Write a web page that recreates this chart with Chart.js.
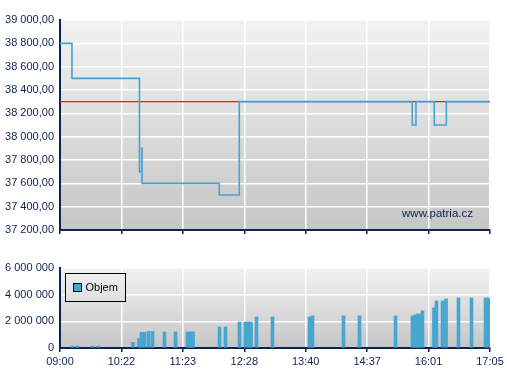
<!DOCTYPE html>
<html>
<head>
<meta charset="utf-8">
<title>Patria - kurz a objem</title>
<script src="https://cdn.jsdelivr.net/npm/chart.js@4.4.0/dist/chart.umd.min.js"></script>
<style>
    body { margin: 0; background: #fff; }
    .wrap { position: relative; width: 507px; height: 380px; }
    canvas { position: absolute; left: 0; }
    #priceChart { top: 0; }
    #volumeChart { top: 245px; }
</style>
</head>
<body>
<div class="wrap">
    <canvas id="priceChart" width="507" height="245"></canvas>
    <canvas id="volumeChart" width="507" height="135"></canvas>
</div>
<script>
// Time labels (positions 0..7 on the session axis)
const timeLabels = ['09:00', '10:22', '11:23', '12:28', '13:40', '14:37', '16:01', '17:05'];

// Price steps: position on session axis and new price
const priceX = [0, 0.195, 1.294, 1.333, 1.336, 2.593, 2.919, 5.735, 5.795, 6.093, 6.289, 7];
const priceValues = [38800, 38500, 37700, 37900, 37600, 37500, 38300, 38100, 38300, 38100, 38300, 38300];

// Reference (previous close) line
const refX = [0, 7];
const refValues = [38300, 38300];

// Cumulative volume per trade
const volumeX = [
    0.203, 0.285, 0.529, 0.627,
    1.188, 1.286, 1.327, 1.376, 1.441, 1.506,
    1.701, 1.880, 2.076, 2.124, 2.165,
    2.596, 2.694,
    2.922, 3.020, 3.069, 3.109,
    3.199, 3.459,
    4.062, 4.110,
    4.615, 4.875, 5.462,
    5.738, 5.779, 5.820, 5.860, 5.901,
    6.088, 6.129, 6.227, 6.284,
    6.487, 6.699, 6.927, 6.975
];
const volumeValues = [
    150000, 150000, 150000, 150000,
    420000, 700000, 1170000, 1170000, 1240000, 1240000,
    1200000, 1200000, 1200000, 1200000, 1200000,
    1580000, 1580000,
    1950000, 1950000, 1950000, 1950000,
    2330000, 2330000,
    2330000, 2400000,
    2400000, 2400000, 2400000,
    2400000, 2470000, 2550000, 2550000, 2780000,
    3000000, 3530000, 3530000, 3680000,
    3750000, 3750000, 3750000, 3750000
];

const navy = '#0d2352';
const lineBlue = '#43a3d2';
const barBlue = '#47a6cf';
const refRed = '#e81c1c';

function groupThousands(str) {
    return str.replace(/\B(?=(\d{3})+(?!\d))/g, ' ');
}

function fmtPrice(v) {
    const parts = v.toFixed(2).split('.');
    return groupThousands(parts[0]) + ',' + parts[1];
}

const plotBackground = {
    id: 'plotBackground',
    beforeDraw(chart) {
        const { ctx, chartArea: a } = chart;
        const g = ctx.createLinearGradient(0, a.top, 0, a.bottom);
        g.addColorStop(0, '#f2f2f2');
        g.addColorStop(1, '#c6c6c6');
        ctx.save();
        ctx.fillStyle = g;
        ctx.fillRect(a.left, a.top, a.right - a.left, a.bottom - a.top);
        ctx.restore();
    }
};

const watermark = {
    id: 'watermark',
    afterDatasetsDraw(chart) {
        const { ctx, chartArea: a } = chart;
        ctx.save();
        ctx.font = '11.5px "Liberation Sans", Arial, sans-serif';
        ctx.fillStyle = navy;
        ctx.textAlign = 'right';
        ctx.textBaseline = 'alphabetic';
        ctx.fillText('www.patria.cz', a.right - 17, a.bottom - 13);
        ctx.restore();
    }
};

const boxLegend = {
    id: 'boxLegend',
    afterDatasetsDraw(chart) {
        const { ctx, chartArea: a } = chart;
        const ds = chart.data.datasets[0];
        const x = a.left + 5.5, y = a.top + 5.5, w = 60, h = 28;
        const g = ctx.createLinearGradient(0, a.top, 0, a.bottom);
        g.addColorStop(0, '#f2f2f2');
        g.addColorStop(1, '#c6c6c6');
        ctx.save();
        ctx.fillStyle = g;
        ctx.fillRect(x, y, w, h);
        ctx.strokeStyle = '#000';
        ctx.lineWidth = 1;
        ctx.strokeRect(x, y, w, h);
        ctx.fillStyle = ds.backgroundColor;
        ctx.fillRect(x + 8, y + 10, 8, 8);
        ctx.strokeRect(x + 8, y + 10, 8, 8);
        ctx.fillStyle = '#000';
        ctx.font = '11px "Liberation Sans", Arial, sans-serif';
        ctx.textBaseline = 'middle';
        ctx.fillText(ds.label, x + 20, y + 14.5);
        ctx.restore();
    }
};

function xAxis(showLabels, height) {
    return {
        type: 'linear',
        min: 0,
        max: timeLabels.length - 1,
        offset: false,
        afterFit(scale) { scale.height = height; },
        afterBuildTicks(scale) {
            scale.ticks = timeLabels.map((_, i) => ({ value: i }));
        },
        grid: {
            color: '#ffffff',
            lineWidth: 1.5,
            offset: false,
            drawTicks: true,
            tickLength: 4,
            tickColor: navy,
            tickWidth: 1.5
        },
        border: { color: navy, width: 2 },
        ticks: {
            display: showLabels,
            padding: 3,
            maxRotation: 0,
            autoSkip: false,
            color: navy,
            font: { family: '"Liberation Sans", Arial, sans-serif', size: 11 },
            callback: (v) => timeLabels[v]
        }
    };
}

function yAxis(min, max, step, fmt) {
    return {
        min: min,
        max: max,
        afterFit(scale) { scale.width = 60; },
        grid: { color: '#ffffff', lineWidth: 1.5, drawTicks: false },
        border: { color: navy, width: 2 },
        ticks: {
            stepSize: step,
            padding: 6,
            color: navy,
            font: { family: '"Liberation Sans", Arial, sans-serif', size: 11 },
            callback: fmt
        }
    };
}

Chart.defaults.animation = false;

const priceChart = new Chart(document.getElementById('priceChart'), {
    type: 'line',
    data: {
        datasets: [
            {
                label: 'Kurz',
                data: priceX.map((x, i) => ({ x: x, y: priceValues[i] })),
                borderColor: lineBlue,
                borderWidth: 1.6,
                stepped: true,
                pointRadius: 0,
                fill: false
            },
            {
                label: 'Referenční cena',
                data: refX.map((x, i) => ({ x: x, y: refValues[i] })),
                borderColor: refRed,
                borderWidth: 1.4,
                pointRadius: 0,
                fill: false
            }
        ]
    },
    options: {
        responsive: false,
        layout: { padding: { top: 20, right: 17, left: 0, bottom: 0 } },
        plugins: { legend: { display: false }, tooltip: { enabled: false } },
        scales: {
            x: xAxis(false, 15),
            y: yAxis(37200, 39000, 200, (v) => fmtPrice(v))
        }
    },
    plugins: [plotBackground, watermark]
});

const volumeChart = new Chart(document.getElementById('volumeChart'), {
    type: 'bar',
    data: {
        datasets: [{
            label: 'Objem',
            data: volumeX.map((x, i) => ({ x: x, y: volumeValues[i] })),
            backgroundColor: barBlue,
            barThickness: 3,
            borderWidth: 0
        }]
    },
    options: {
        responsive: false,
        layout: { padding: { top: 23, right: 17, left: 0, bottom: 0 } },
        plugins: { legend: { display: false }, tooltip: { enabled: false } },
        scales: {
            x: xAxis(true, 32),
            y: yAxis(0, 6000000, 2000000, (v) => groupThousands(String(v)))
        }
    },
    plugins: [plotBackground, boxLegend]
});
</script>
</body>
</html>
